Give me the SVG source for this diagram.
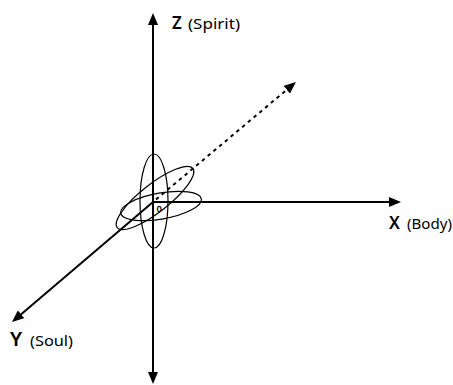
<svg xmlns="http://www.w3.org/2000/svg" width="453" height="385" viewBox="0 0 453 385">
<defs>
<marker id="ah" viewBox="0 0 12 10" markerUnits="userSpaceOnUse" markerWidth="12" markerHeight="10" refX="8" refY="5" orient="auto">
<path d="M0,0 L12,5 L0,10 z" fill="#000"/>
</marker>
<style>
.axis{stroke:#000;stroke-width:2;fill:none}
.ring{stroke:#000;stroke-width:1.2;fill:none}
.big{font-family:"Noto Sans","DejaVu Sans",sans-serif;font-weight:600;fill:#000}
.small{font-family:"Noto Sans","DejaVu Sans",sans-serif;font-size:13.5px;font-weight:400;fill:#000}
</style>
</defs>
<rect width="453" height="385" fill="#fff"/>
<g id="connectors">
<line class="axis" x1="153" y1="202" x2="153" y2="17" marker-end="url(#ah)"/>
<line class="axis" x1="153" y1="202" x2="153" y2="380" marker-end="url(#ah)"/>
<line class="axis" x1="153" y1="202" x2="397" y2="202" marker-end="url(#ah)"/>
<line class="axis" x1="153" y1="202" x2="15" y2="319.4" stroke-width="2.5" marker-end="url(#ah)"/>
<line class="axis" x1="156" y1="199.5" x2="292.9" y2="84.6" stroke-width="3" stroke-dasharray="3.5 4" marker-end="url(#ah)"/>
</g>
<g id="rings">
<ellipse class="ring" cx="154" cy="201" rx="14" ry="47"/>
<ellipse class="ring" cx="155" cy="198" rx="48" ry="14" transform="rotate(-38 155 198)"/>
<ellipse class="ring" cx="161" cy="206" rx="41" ry="13" transform="rotate(-10 161 206)"/>
</g>
<g id="labels">
<text class="big" x="172" y="29" font-size="17">Z</text>
<text class="small" x="188" y="29" textLength="52" lengthAdjust="spacingAndGlyphs">(Spirit)</text>
<text class="big" x="389" y="229" font-size="17">X</text>
<text class="small" x="407" y="229" textLength="45" lengthAdjust="spacingAndGlyphs">(Body)</text>
<text class="big" x="10" y="346" font-size="20">Y</text>
<text class="small" x="30" y="346" textLength="43" lengthAdjust="spacingAndGlyphs">(Soul)</text>
<text class="big" x="156.5" y="212" font-size="9.5">0</text>
</g>
</svg>
